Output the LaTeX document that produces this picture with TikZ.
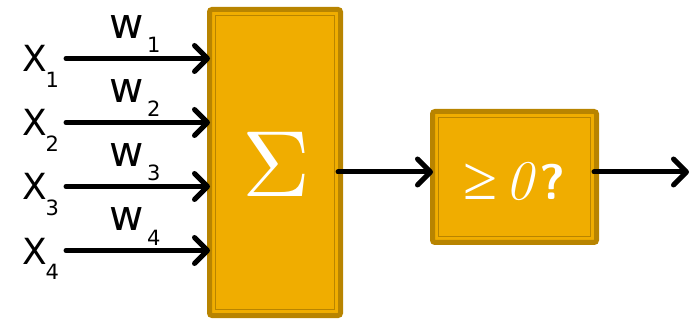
\documentclass[tikz,border=0pt]{standalone}
\usepackage{fontspec}
\newfontfamily\labelfont{DejaVu Sans}
\newfontfamily\symfont{Liberation Serif}
\usetikzlibrary{arrows.meta}
\definecolor{boxfill}{HTML}{F0AD00}
\definecolor{boxedge}{HTML}{B88400}
\tikzset{
  blockbox/.style={draw=boxedge, line width=5pt, fill=boxfill, rounded corners=2.5pt},
  innerline/.style={draw=boxedge, line width=1.6pt},
  signal/.style={line width=5pt, line cap=round, -{Straight Barb[length=13pt,width=26pt,line cap=round,line join=round]}},
  xlab/.style={anchor=base west, inner sep=0pt, font=\labelfont\fontsize{36}{36}\selectfont},
  wlab/.style={anchor=base west, inner sep=0pt, font=\labelfont\fontsize{42}{42}\selectfont},
  sublab/.style={anchor=base west, inner sep=0pt, font=\labelfont\fontsize{21}{21}\selectfont},
}
\begin{document}
\begin{tikzpicture}[x=1pt,y=-1pt]
\useasboundingbox (0,0) rectangle (698,320);

% summation block
\draw[blockbox] (209.5,9.5) rectangle (340.5,315.5);
\draw[innerline] (215.5,15.5) rectangle (334.5,309.5);
\node[anchor=base, inner sep=0pt, text=white] (sigma) at (276,197) {\scalebox{9.4}{$\Sigma$}};
\coordinate (sumout) at (338,172);

% threshold block
\draw[blockbox] (432.5,111.5) rectangle (596.5,242.5);
\draw[innerline] (438.5,117.5) rectangle (590.5,236.5);
\node[anchor=base, inner sep=0pt, text=white] (thr) at (514.5,200)
  {{\symfont\fontsize{62}{62}\selectfont ≥}\hspace{8pt}\fontsize{56}{56}\selectfont\textit{0}\hspace{3pt}{\fontsize{50}{50}\selectfont\sffamily\bfseries ?}};
\coordinate (thrin) at (433,172);
\coordinate (throut) at (594,172);
\coordinate (out) at (689,172);

% inputs with weights
\foreach \i/\y in {1/58.5, 2/122.5, 3/186.5, 4/250.5} {
  \coordinate (in\i) at (66,\y);
  \coordinate (sumin\i) at (210,\y);
  \node[xlab] (x\i) at (22,\y+13.5) {X};
  \node[sublab] (xs\i) at (45.5,\y+29) {\i};
  \node[wlab] (w\i) at (109,\y-19.5) {w};
  \node[sublab] (ws\i) at (147,\y-5.5) {\i};
  \draw[signal] (in\i) -- (sumin\i);
}

\draw[signal] (sumout) -- (thrin);
\draw[signal] (throut) -- (out);
\end{tikzpicture}
\end{document}
